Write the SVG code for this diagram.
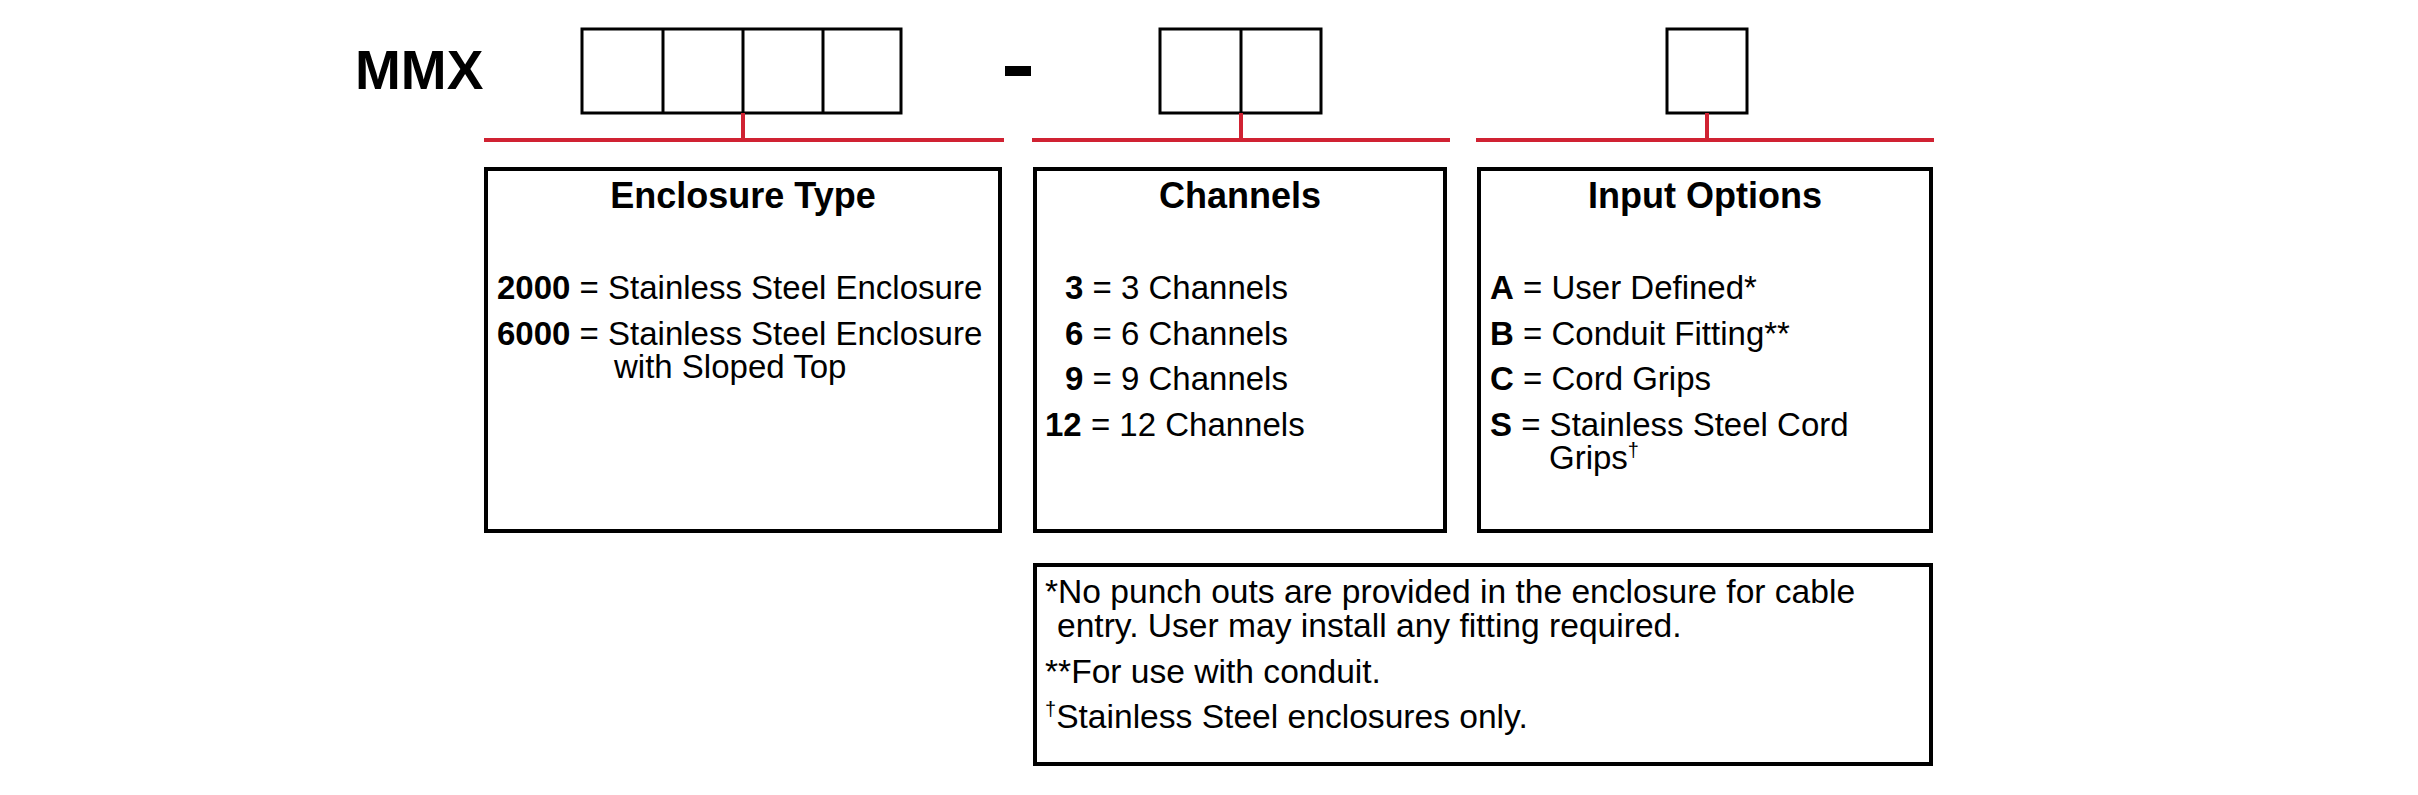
<svg xmlns="http://www.w3.org/2000/svg" width="2418" height="795" viewBox="0 0 2418 795">
<style>
text{font-family:"Liberation Sans",Arial,Helvetica,sans-serif;fill:#000}
.mmx{font-size:55px;font-weight:bold}
.title{font-size:36px;font-weight:bold;text-anchor:middle}
.body{font-size:33px}
.note{font-size:33.6px}
.b{font-weight:bold}
.sup{font-size:20px}
.box{fill:#fff;stroke:#000;stroke-width:4}
.cell{fill:#fff;stroke:#000;stroke-width:3}
.red{stroke:#d02232;stroke-width:4;fill:none}
</style>
<rect width="2418" height="795" fill="#fff"/>
<g id="code">
<text class="mmx" x="355" y="89">MMX</text>
<g id="code-enclosure">
<rect class="cell" x="582" y="29" width="319" height="84"/>
<line class="cell" x1="663" y1="29" x2="663" y2="113"/>
<line class="cell" x1="743" y1="29" x2="743" y2="113"/>
<line class="cell" x1="823" y1="29" x2="823" y2="113"/>
</g>
<rect id="dash" x="1005" y="66" width="26" height="10" fill="#000"/>
<g id="code-channels">
<rect class="cell" x="1160" y="29" width="161" height="84"/>
<line class="cell" x1="1241" y1="29" x2="1241" y2="113"/>
</g>
<g id="code-input">
<rect class="cell" x="1667" y="29" width="80" height="84"/>
</g>
</g>
<g id="connectors">
<path class="red" d="M484 140H1004M743 113V140"/>
<path class="red" d="M1032 140H1450M1241 113V140"/>
<path class="red" d="M1476 140H1934M1707 113V140"/>
</g>
<g id="enclosure-type">
<rect class="box" x="486" y="169" width="514" height="362"/>
<text class="title" x="743" y="208">Enclosure Type</text>
<text class="body" x="497" y="299"><tspan class="b">2000</tspan> = Stainless Steel Enclosure</text>
<text class="body" x="497" y="345"><tspan class="b">6000</tspan> = Stainless Steel Enclosure</text>
<text class="body" x="614" y="378">with Sloped Top</text>
</g>
<g id="channels">
<rect class="box" x="1035" y="169" width="410" height="362"/>
<text class="title" x="1240" y="208">Channels</text>
<text class="body" x="1065" y="299"><tspan class="b">3</tspan> = 3 Channels</text>
<text class="body" x="1065" y="345"><tspan class="b">6</tspan> = 6 Channels</text>
<text class="body" x="1065" y="390"><tspan class="b">9</tspan> = 9 Channels</text>
<text class="body" x="1045" y="436"><tspan class="b">12</tspan> = 12 Channels</text>
</g>
<g id="input-options">
<rect class="box" x="1479" y="169" width="452" height="362"/>
<text class="title" x="1705" y="208">Input Options</text>
<text class="body" x="1490" y="299"><tspan class="b">A</tspan> = User Defined*</text>
<text class="body" x="1490" y="345"><tspan class="b">B</tspan> = Conduit Fitting**</text>
<text class="body" x="1490" y="390"><tspan class="b">C</tspan> = Cord Grips</text>
<text class="body" x="1490" y="436"><tspan class="b">S</tspan> = Stainless Steel Cord</text>
<text class="body" x="1549" y="469">Grips<tspan class="sup" dy="-12">†</tspan></text>
</g>
<g id="notes">
<rect class="box" x="1035" y="565" width="896" height="199"/>
<text class="note" x="1045" y="603">*No punch outs are provided in the enclosure for cable</text>
<text class="note" x="1057" y="637">entry. User may install any fitting required.</text>
<text class="note" x="1045" y="683">**For use with conduit.</text>
<text class="note" x="1045" y="728"><tspan class="sup" dy="-12">†</tspan><tspan dy="12">Stainless Steel enclosures only.</tspan></text>
</g>
</svg>
